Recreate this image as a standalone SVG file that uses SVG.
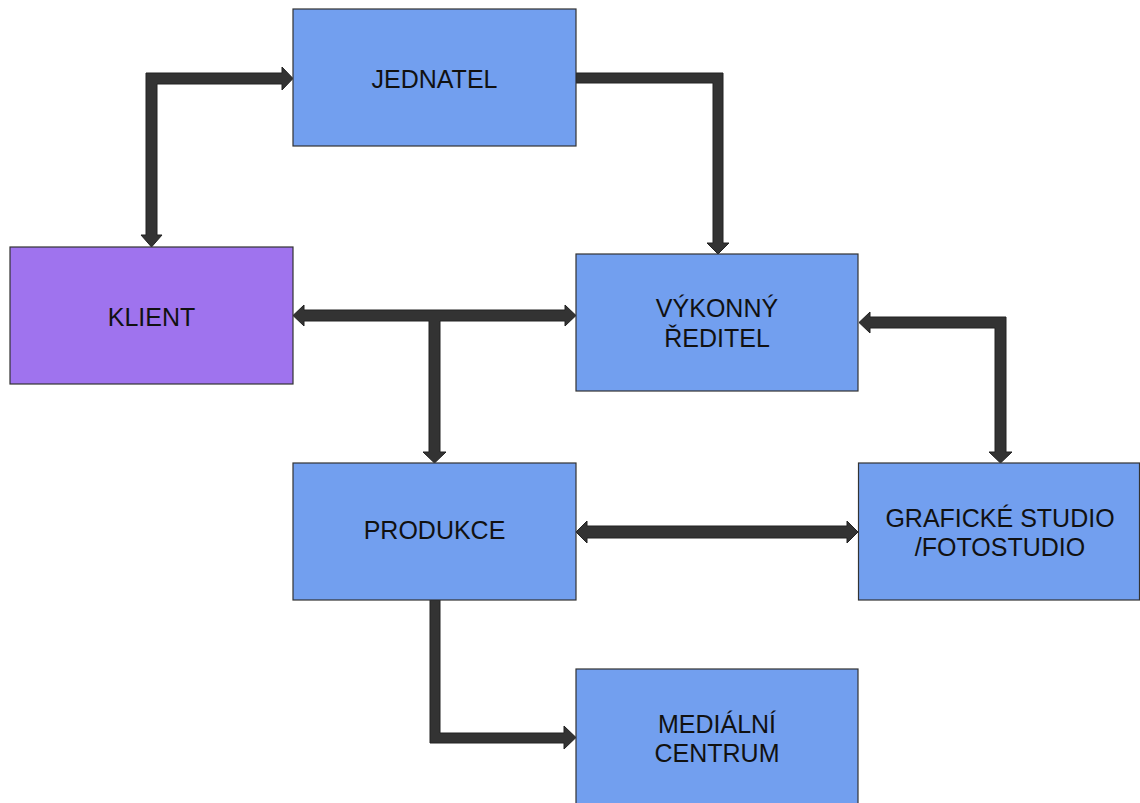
<svg xmlns="http://www.w3.org/2000/svg" width="1140" height="803" viewBox="0 0 1140 803">
  <style>
    .box { fill: #729fef; stroke: #333333; stroke-width: 1.2; }
    .client { fill: #9f73ee; stroke: #333333; stroke-width: 1.2; }
    .lbl { font-family: "Liberation Sans", Arial, sans-serif; font-size: 25px; fill: #111111; text-anchor: middle; }
    .arr { fill: #333333; stroke: #222222; stroke-width: 1; stroke-linejoin: miter; }
  </style>
  <rect width="1140" height="803" fill="#ffffff"/>
  <g id="connectors">
    <polygon class="arr" points="151.5,247 141,235 146,235 146,73 282,73 282,67 293,78.5 282,90 282,84 157,84 157,235 162,235"/>
    <polygon class="arr" points="576,73 723,73 723,243 729,243 718,254 707,243 713,243 713,83 576,83"/>
    <polygon class="arr" points="293,315.5 304,305 304,310 565,310 565,305 576,315.5 565,326 565,321 440,321 440,452 446,452 434.5,463 423,452 429,452 429,321 304,321 304,326"/>
    <polygon class="arr" points="859,322.5 870,312 870,317 1006,317 1006,452 1012,452 1000.5,463 989,452 995,452 995,328 870,328 870,333"/>
    <polygon class="arr" points="576,532 587,521 587,526 847,526 847,521 858,532 847,543 847,538 587,538 587,543"/>
    <polygon class="arr" points="430,600 440,600 440,733 564,733 564,726 576,737.5 564,749 564,743 430,743"/>
  </g>
  <g id="jednatel">
    <rect class="box" x="293" y="9" width="283" height="137"/>
    <text class="lbl" x="434.5" y="88">JEDNATEL</text>
  </g>
  <g id="klient">
    <rect class="client" x="10" y="247" width="283" height="137"/>
    <text class="lbl" x="151.5" y="325.5">KLIENT</text>
  </g>
  <g id="vykonny-reditel">
    <rect class="box" x="576" y="254" width="282" height="137"/>
    <text class="lbl" x="717" y="316.5">VÝKONNÝ</text>
    <text class="lbl" x="717" y="346.5">ŘEDITEL</text>
  </g>
  <g id="produkce">
    <rect class="box" x="293" y="463" width="283" height="137"/>
    <text class="lbl" x="434.5" y="538.5">PRODUKCE</text>
  </g>
  <g id="graficke-studio">
    <rect class="box" x="858.5" y="463" width="281" height="137"/>
    <text class="lbl" x="1000" y="526.5">GRAFICKÉ STUDIO</text>
    <text class="lbl" x="1000" y="555.5">/FOTOSTUDIO</text>
  </g>
  <g id="medialni-centrum">
    <rect class="box" x="576" y="669" width="282" height="140"/>
    <text class="lbl" x="717" y="732.5">MEDIÁLNÍ</text>
    <text class="lbl" x="717" y="761.5">CENTRUM</text>
  </g>
</svg>
